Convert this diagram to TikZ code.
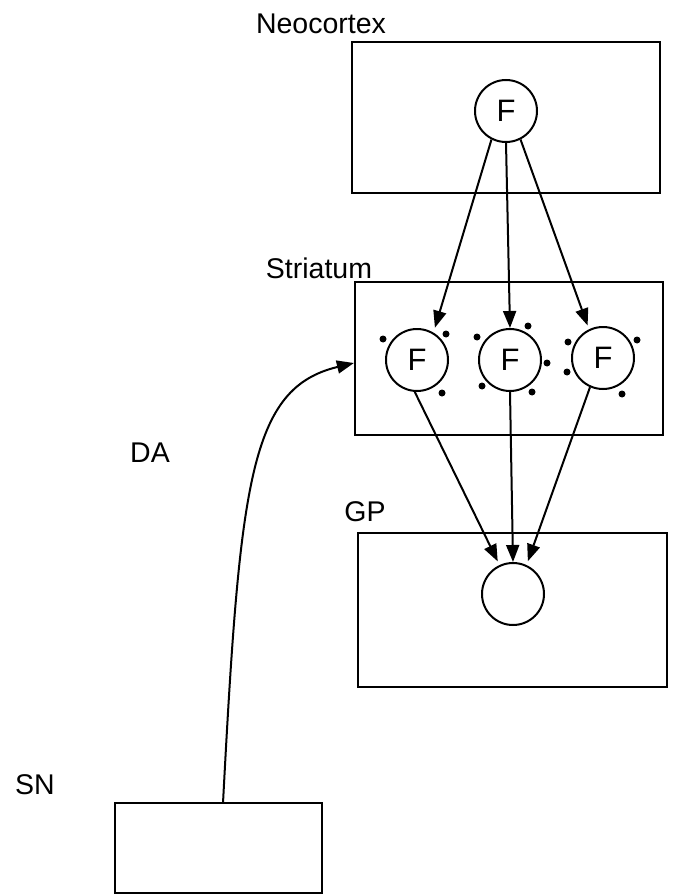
\documentclass[tikz,border=0pt]{standalone}
\usepackage{fontspec}
\setmainfont{Liberation Sans}
\usetikzlibrary{arrows.meta}
\begin{document}
\begin{tikzpicture}[x=1pt,y=-1pt,
  region/.style={draw,line width=2.2pt,rectangle,inner sep=0pt},
  cell/.style={draw,line width=2pt,circle,minimum size=62pt,inner sep=0pt,font=\fontsize{31}{34}\selectfont},
  lab/.style={inner sep=0pt,font=\fontsize{28.5}{32}\selectfont},
  arr/.style={line width=2pt,-{Triangle[length=17pt,width=13pt]}},
  dot/.style={fill,circle,inner sep=0pt,minimum size=7pt}]
\useasboundingbox (0,0) rectangle (676,896);
% regions
\node[region,minimum width=308pt,minimum height=151pt] (neo) at (506,117.5) {};
\node[region,minimum width=308pt,minimum height=153pt] (str) at (509,358.5) {};
\node[region,minimum width=309pt,minimum height=154pt] (gp) at (512.5,610) {};
\node[region,minimum width=207pt,minimum height=90pt] (sn) at (218.5,848) {};
% labels
\node[lab] (lneo) at (321,24) {Neocortex};
\node[lab] (lstr) at (319,268) {Striatum};
\node[lab] (lgp) at (365,512) {GP};
\node[lab] (lda) at (150,453) {DA};
\node[lab] (lsn) at (35,785) {SN};
% cells
\node[cell] (nf) at (506,111) {F};
\node[cell] (s1) at (417,360) {F};
\node[cell] (s2) at (510,360) {F};
\node[cell] (s3) at (603,358) {F};
\node[cell] (g) at (513,594) {};
% dots
\foreach \p/\n in {{(383,339)}/d1,{(446,334)}/d2,{(442,393)}/d3,
                   {(477,337)}/d4,{(528,326)}/d5,{(547,363)}/d6,{(482,386)}/d7,{(532,392)}/d8,
                   {(568,342)}/d9,{(637,340)}/d10,{(567,372)}/d11,{(622,394)}/d12}
  \node[dot] (\n) at \p {};
% connections
\draw[arr,shorten >=5pt] (nf.243) -- (s1.59);
\draw[arr] (nf.south) -- (s2.north);
\draw[arr,shorten >=4pt] (nf.297) -- (s3.116);
\draw[arr,shorten >=4pt] (s1.266) -- (g.115);
\draw[arr] (s2.south) -- (g.north);
\draw[arr,shorten >=4pt] (s3.246) -- (g.65);
\coordinate (snt) at (223,803);
\draw[arr] (snt) .. controls (240,480) and (250,388) .. ([yshift=-4.5pt]str.west);
\end{tikzpicture}
\end{document}
